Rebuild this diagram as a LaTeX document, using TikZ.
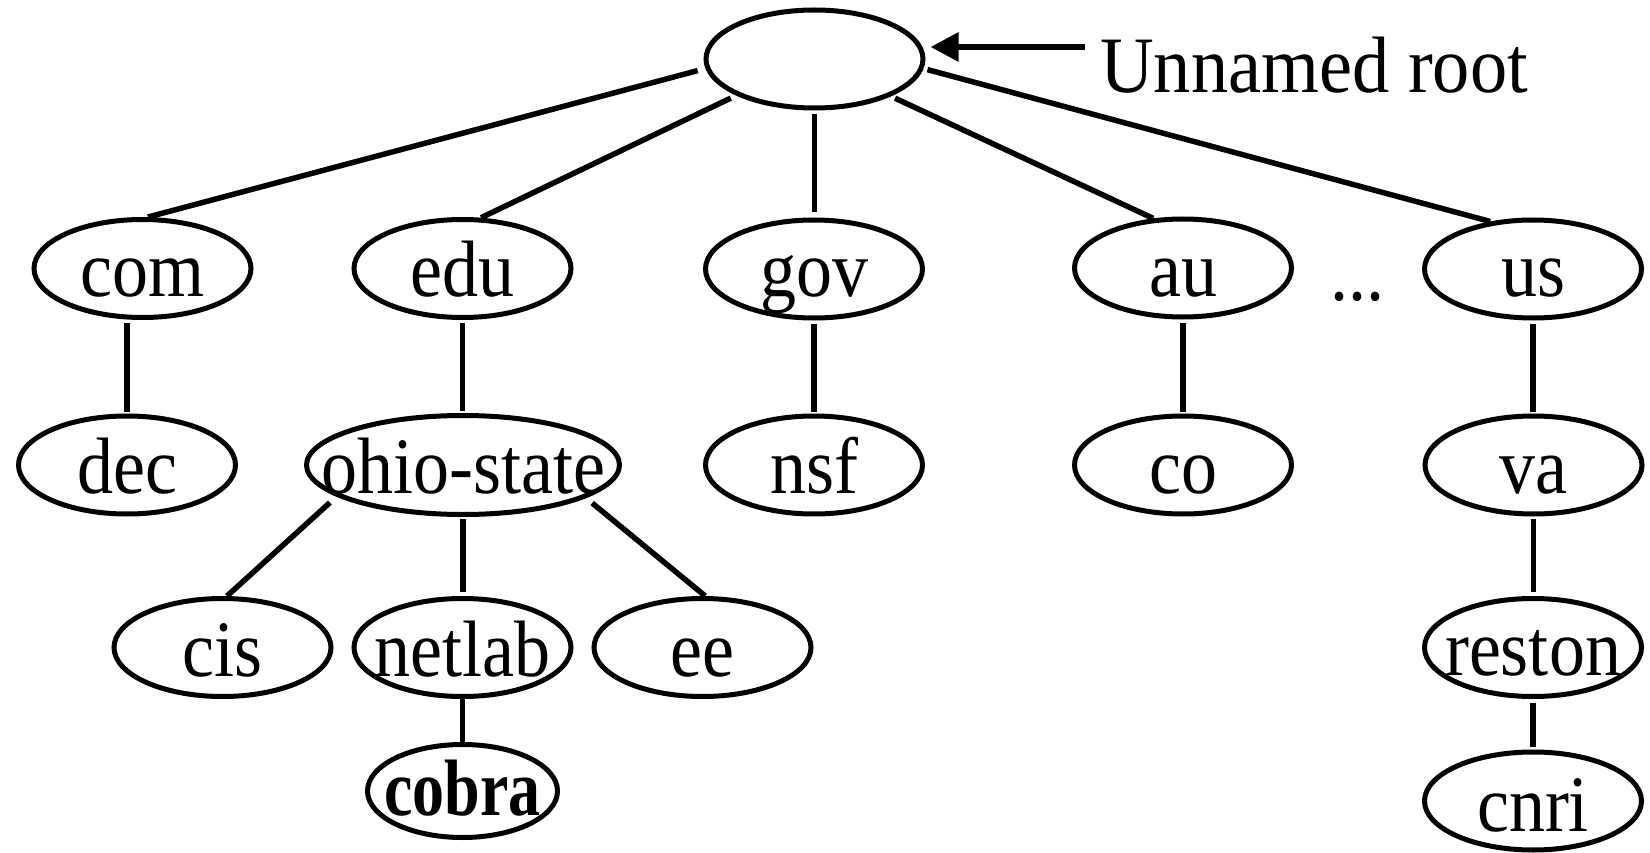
\documentclass[tikz,border=0pt]{standalone}
\usepackage{graphicx}
\usepackage{fontspec}
\setmainfont{Liberation Serif}
\usetikzlibrary{shapes.geometric,arrows.meta}
\newcommand{\dnslbl}[1]{\scalebox{0.9}[1]{#1}}
\begin{document}
\begin{tikzpicture}[x=1pt,y=-1pt,
  el/.style={draw, ellipse, line width=5pt, minimum width=217pt, minimum height=98pt, inner sep=0pt},
  lbl/.style={anchor=base, inner sep=0pt, font=\fontsize{80}{90}\selectfont},
  conn/.style={line width=5.5pt},
]
\useasboundingbox (0,0) rectangle (1650,853);

% ellipses
\node[el] (root) at (814.5,59) {};
\node[el] (com) at (142.5,268.5) {};
\node[el] (edu) at (462.5,268.5) {};
\node[el] (gov) at (814,269) {};
\node[el] (au) at (1183,268) {};
\node[el] (us) at (1533,269) {};
\node[el] (dec) at (127,465) {};
\node[el, minimum width=313pt, minimum height=99pt] (ohio) at (463,465) {};
\node[el] (nsf) at (814,465) {};
\node[el] (co) at (1183,465) {};
\node[el] (va) at (1533.5,465) {};
\node[el] (cis) at (222.5,647.5) {};
\node[el] (netlab) at (462.5,647.5) {};
\node[el] (ee) at (702.5,647.5) {};
\node[el] (reston) at (1533,647.5) {};
\node[el, minimum width=190pt, minimum height=93pt] (cobra) at (462.5,791) {};
\node[el] (cnri) at (1533,801) {};

% labels
\node[lbl] (com-t) at ([yshift=-28pt]com.center) {\dnslbl{com}};
\node[lbl] (edu-t) at ([yshift=-28pt]edu.center) {\dnslbl{edu}};
\node[lbl] (gov-t) at ([yshift=-28pt]gov.center) {\dnslbl{gov}};
\node[lbl] (au-t) at ([yshift=-28pt]au.center) {\dnslbl{au}};
\node[lbl] (us-t) at ([yshift=-28pt]us.center) {\dnslbl{us}};
\node[lbl] (dec-t) at ([yshift=-28pt]dec.center) {\dnslbl{dec}};
\node[lbl] (ohio-t) at ([yshift=-28pt]ohio.center) {\dnslbl{ohio-state}};
\node[lbl] (nsf-t) at ([yshift=-28pt]nsf.center) {\dnslbl{nsf}};
\node[lbl] (co-t) at ([yshift=-28pt]co.center) {\dnslbl{co}};
\node[lbl] (va-t) at ([yshift=-28pt]va.center) {\dnslbl{va}};
\node[lbl] (cis-t) at ([yshift=-29pt]cis.center) {\dnslbl{cis}};
\node[lbl] (netlab-t) at ([yshift=-29pt]netlab.center) {\dnslbl{netlab}};
\node[lbl] (ee-t) at ([yshift=-29pt]ee.center) {\dnslbl{ee}};
\node[lbl] (reston-t) at ([yshift=-28pt]reston.center) {\dnslbl{reston}};
\node[lbl] (cobra-t) at ([yshift=-24pt]cobra.center) {\scalebox{0.8}[1]{\bfseries cobra}};
\node[lbl] (cnri-t) at ([yshift=-30pt]cnri.center) {\dnslbl{cnri}};
\node[lbl] (dots) at (1357,300) {\dnslbl{...}};
\node[lbl, anchor=base west] (rootlbl) at (1100,93) {\scalebox{0.93}[1]{Unnamed root}};

% connectors from root
\draw[conn, shorten <=8pt] (root.185) -- (com.84);
\draw[conn, shorten <=6pt] (root.205) -- (edu.70);
\draw[conn, shorten <=4pt, shorten >=5pt] (root.south) -- (root.south |- gov.north);
\draw[conn, shorten <=4.5pt] (root.334) -- (au.121);
\draw[conn, shorten <=4pt] (root.355) -- (us.132);

% vertical connectors
\draw[conn, shorten <=3pt, shorten >=2pt] (com.south -| dec.north) -- (dec.north);
\draw[conn, shorten <=3pt, shorten >=2pt] (edu.south) -- (edu.south |- ohio.north);
\draw[conn, shorten <=3pt, shorten >=2pt] (gov.south) -- (nsf.north);
\draw[conn, shorten <=3pt, shorten >=2pt] (au.south) -- (co.north);
\draw[conn, shorten <=3pt, shorten >=2pt] (us.south) -- (us.south |- va.north);
\draw[conn, shorten <=2pt, shorten >=4pt] (ohio.south) -- (ohio.south |- netlab.north);
\draw[conn] (netlab.south) -- (cobra.north);
\draw[conn, shorten <=2pt, shorten >=4pt] (va.south) -- (va.south |- reston.north);
\draw[conn, shorten <=4pt, shorten >=3pt] (reston.south) -- (cnri.north);

% diagonal connectors from ohio-state
\draw[conn, shorten <=9pt] (ohio.194) -- (cis.85);
\draw[conn, shorten <=8pt] (ohio.345) -- (ee.87);

% arrow to root
\coordinate (arrtail) at (1085,47);
\draw[line width=6pt, -{Triangle[length=28pt,width=28pt]}, shorten >=5pt] (arrtail) -- (arrtail -| root.east);
\end{tikzpicture}
\end{document}
